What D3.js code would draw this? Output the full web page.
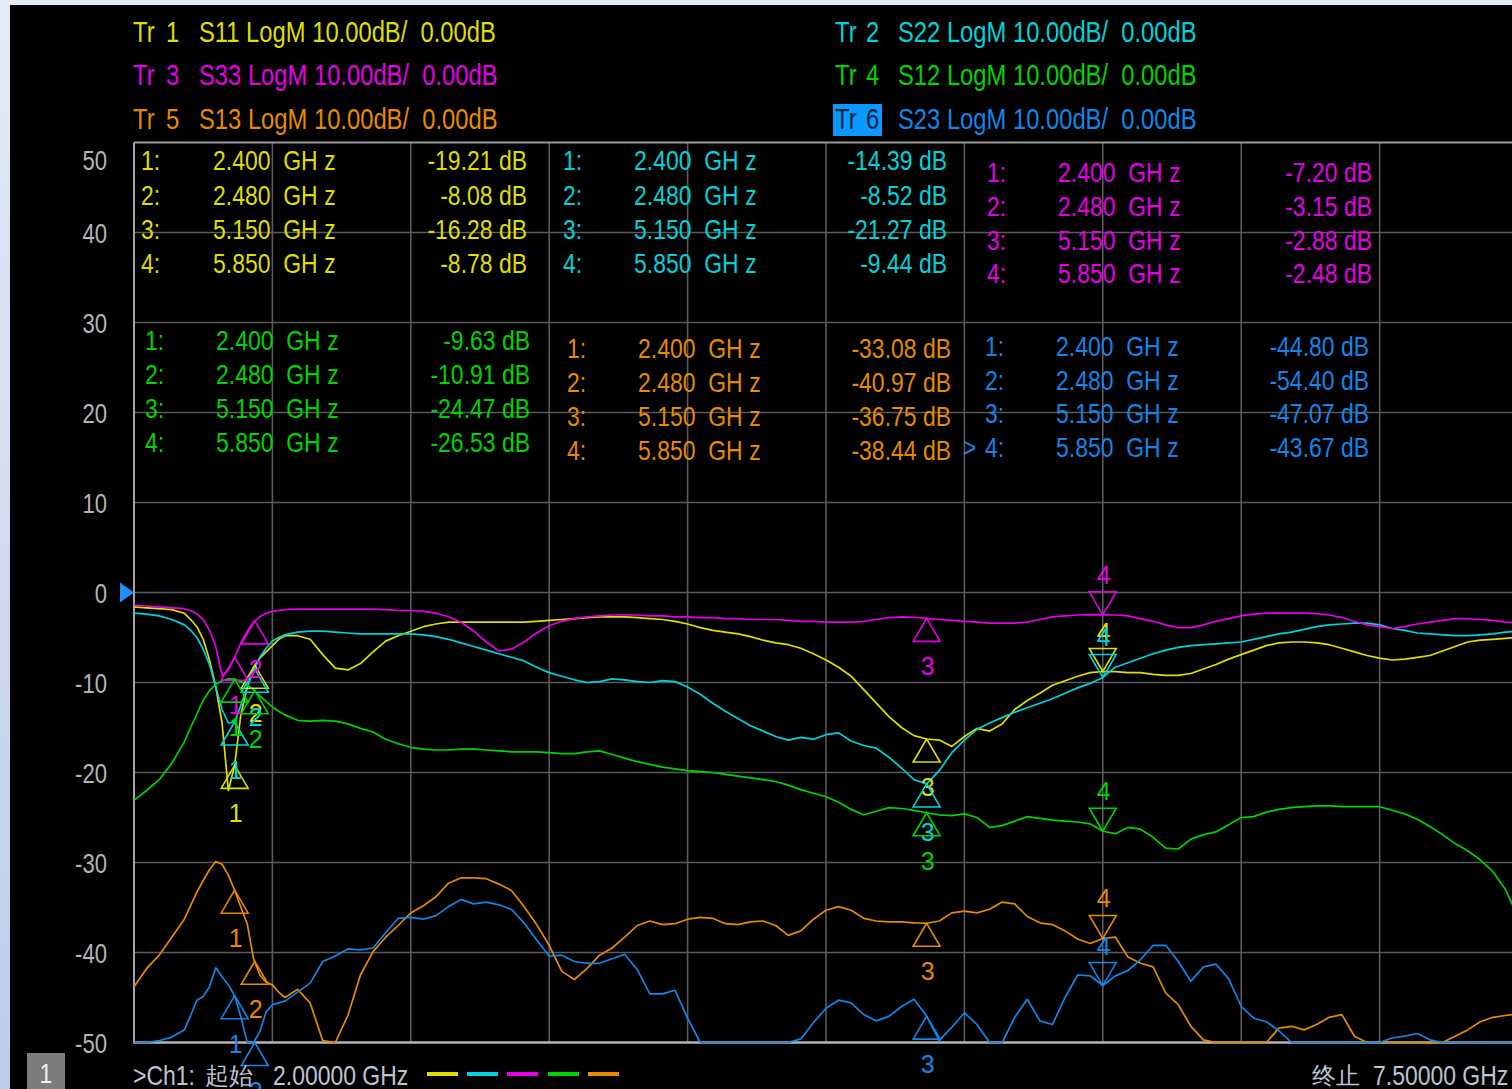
<!DOCTYPE html>
<html><head><meta charset="utf-8">
<script src="https://cdn.jsdelivr.net/npm/d3@7"></script>
<style>
html,body{margin:0;padding:0;background:#000;overflow:hidden}
svg{display:block}
text{font-family:"Liberation Sans",Arial,sans-serif;white-space:pre}
</style></head><body>
<svg id="c" width="1512" height="1089"></svg>
<script>
// ---------------- DATA ----------------
const freqGHz = [2.00,2.05,2.10,2.15,2.20,2.225,2.25,2.275,2.30,2.325,2.35,2.375,2.40,2.425,2.45,2.475,2.50,2.525,2.55,2.575,2.60,
 2.65,2.70,2.75,2.80,2.85,2.90,2.95,3.00,
 3.05,3.10,3.15,3.20,3.25,3.30,3.35,3.40,3.45,3.50,3.55,3.60,3.65,3.70,3.75,3.80,3.85,3.90,3.95,4.00,
 4.05,4.10,4.15,4.20,4.25,4.30,4.35,4.40,4.45,4.50,4.55,4.60,4.65,4.70,4.75,4.80,4.85,4.90,4.95,5.00,
 5.05,5.10,5.15,5.20,5.25,5.30,5.35,5.40,5.45,5.50,5.55,5.60,5.65,5.70,5.75,5.80,5.85,5.90,5.95,6.00,
 6.05,6.10,6.15,6.20,6.25,6.30,6.35,6.40,6.45,6.50,6.55,6.60,6.65,6.70,6.75,6.80,6.85,6.90,6.95,7.00,
 7.05,7.10,7.15,7.20,7.25,7.30,7.35,7.40,7.45,7.50];

const s11Db = [-1.6,-1.7,-1.8,-1.9,-2.3,-3.0,-3.8,-5.2,-7.5,-10.5,-14.5,-22.0,-19.21,-13.5,-10.5,-8.3,-7.3,-6.6,-5.9,-5.2,-4.8,
 -4.8,-5.2,-6.9,-8.4,-8.6,-7.9,-6.6,-5.4,
 -4.8,-4.3,-3.8,-3.5,-3.3,-3.3,-3.3,-3.3,-3.3,-3.3,-3.3,-3.2,-3.1,-3.0,-2.9,-2.8,-2.7,-2.7,-2.7,-2.8,
 -2.9,-3.0,-3.2,-3.5,-3.9,-4.2,-4.4,-4.6,-4.9,-5.3,-5.6,-5.8,-6.2,-6.8,-7.5,-8.3,-9.3,-10.8,-12.3,-13.8,
 -15.0,-15.9,-16.28,-16.4,-17.1,-16.0,-15.1,-15.4,-14.6,-13.0,-12.0,-11.2,-10.3,-9.8,-9.3,-8.9,-8.78,-8.8,-8.9,-8.9,
 -9.1,-9.2,-9.2,-9.0,-8.5,-8.0,-7.4,-6.9,-6.4,-5.9,-5.6,-5.5,-5.5,-5.6,-5.8,-6.2,-6.6,-7.0,-7.3,-7.5,
 -7.4,-7.2,-7.0,-6.5,-6.0,-5.5,-5.3,-5.2,-5.1,-5.0];

const s22Db = [-2.3,-2.4,-2.6,-3.0,-3.6,-4.2,-5.0,-6.3,-8.0,-10.5,-13.0,-14.5,-14.39,-12.5,-10.5,-8.7,-7.2,-6.2,-5.4,-5.0,-4.7,
 -4.4,-4.3,-4.3,-4.4,-4.5,-4.6,-4.6,-4.6,
 -4.6,-4.6,-4.7,-4.9,-5.2,-5.6,-6.0,-6.4,-6.8,-7.2,-7.6,-8.3,-8.9,-9.3,-9.7,-10.0,-9.9,-9.6,-9.7,-9.9,
 -10.0,-9.8,-9.9,-10.5,-11.3,-12.3,-13.2,-14.0,-14.8,-15.4,-16.0,-16.4,-16.1,-16.3,-15.8,-15.6,-16.5,-17.0,-17.3,-18.3,
 -19.5,-20.8,-21.27,-19.8,-17.8,-16.4,-15.2,-14.5,-13.9,-13.3,-12.8,-12.3,-11.8,-11.2,-10.6,-10.1,-9.44,-8.3,-7.8,-7.3,
 -6.8,-6.4,-6.1,-5.9,-5.8,-5.7,-5.6,-5.5,-5.2,-4.9,-4.6,-4.4,-4.1,-3.8,-3.6,-3.5,-3.4,-3.4,-3.6,-4.0,
 -4.2,-4.5,-4.6,-4.7,-4.8,-4.8,-4.7,-4.6,-4.4,-4.3];

const s33Db = [-1.4,-1.5,-1.6,-1.7,-1.8,-2.0,-2.4,-3.0,-4.2,-6.0,-9.2,-8.6,-7.20,-5.6,-4.3,-3.3,-2.7,-2.3,-2.1,-2.0,-1.9,
 -1.85,-1.85,-1.85,-1.85,-1.85,-1.85,-1.85,-1.9,
 -2.0,-2.0,-2.1,-2.3,-2.7,-3.3,-4.3,-5.5,-6.5,-6.3,-5.5,-4.5,-3.7,-3.2,-2.9,-2.7,-2.6,-2.5,-2.5,-2.5,
 -2.6,-2.6,-2.7,-2.7,-2.8,-2.8,-2.9,-2.9,-3.0,-3.0,-3.0,-3.1,-3.2,-3.2,-3.3,-3.3,-3.3,-3.2,-3.0,-2.8,
 -2.7,-2.75,-2.88,-3.0,-3.1,-3.2,-3.3,-3.4,-3.4,-3.4,-3.3,-3.0,-2.7,-2.6,-2.5,-2.45,-2.48,-2.5,-2.6,-2.9,
 -3.2,-3.6,-3.9,-3.9,-3.6,-3.2,-2.9,-2.6,-2.4,-2.3,-2.3,-2.3,-2.3,-2.35,-2.5,-2.8,-3.2,-3.6,-3.8,-4.0,
 -3.8,-3.5,-3.3,-3.1,-2.9,-2.9,-3.0,-3.1,-3.3,-3.4];

const s12Db = [-23.1,-22.0,-20.8,-19.0,-16.6,-15.0,-13.5,-12.0,-10.9,-10.2,-9.8,-9.6,-9.63,-9.9,-10.3,-10.8,-11.5,-12.1,-12.7,-13.2,-13.6,
 -14.2,-14.3,-14.2,-14.3,-14.6,-15.1,-15.5,-16.3,
 -16.8,-17.2,-17.4,-17.5,-17.5,-17.4,-17.4,-17.5,-17.6,-17.7,-17.7,-17.7,-17.8,-17.9,-17.9,-17.7,-17.6,-18.0,-18.4,-18.8,
 -19.1,-19.4,-19.6,-19.8,-19.9,-20.0,-20.2,-20.4,-20.6,-20.8,-21.0,-21.4,-21.9,-22.3,-22.7,-23.3,-24.1,-24.7,-24.3,-23.9,
 -24.0,-24.2,-24.47,-24.7,-24.8,-24.6,-25.0,-26.1,-25.9,-25.4,-24.9,-25.1,-25.3,-25.4,-25.5,-25.7,-26.53,-26.8,-26.1,-26.3,
 -27.2,-28.4,-28.5,-27.4,-26.9,-26.6,-25.8,-25.0,-24.9,-24.4,-24.1,-23.9,-23.8,-23.7,-23.7,-23.8,-23.8,-23.8,-23.8,-24.2,
 -24.6,-25.2,-26.0,-26.9,-27.9,-28.7,-29.7,-31.0,-33.0,-36.0];

const s13Db = [-43.8,-41.8,-40.3,-38.3,-36.3,-34.8,-33.3,-32.0,-30.8,-29.9,-30.2,-31.4,-33.08,-35.0,-36.8,-40.7,-42.5,-43.3,-43.6,-44.4,-45.0,
 -44.1,-45.6,-49.8,-50.0,-47.0,-42.5,-39.9,-38.3,
 -37.0,-35.6,-34.8,-33.8,-32.3,-31.7,-31.7,-31.8,-32.4,-33.1,-34.9,-36.9,-39.2,-42.1,-43.0,-41.8,-40.3,-39.5,-38.3,-37.0,
 -36.5,-36.9,-36.8,-36.3,-36.1,-36.2,-36.8,-36.9,-36.6,-36.5,-37.0,-38.1,-37.6,-36.3,-35.3,-34.9,-35.3,-36.2,-36.5,-36.6,
 -36.6,-36.7,-36.75,-36.5,-35.6,-35.4,-35.6,-35.2,-34.4,-34.6,-36.0,-36.7,-36.9,-37.6,-38.5,-39.0,-38.44,-38.3,-40.5,-41.2,
 -41.6,-44.5,-45.8,-48.2,-49.7,-50.0,-50.0,-50.0,-50.0,-50.0,-48.4,-48.2,-48.6,-48.0,-47.2,-46.9,-49.3,-50.0,-50.0,-50.0,
 -50.0,-50.0,-50.0,-50.0,-49.3,-48.6,-47.7,-47.2,-47.0,-46.8];

const s23Db = [-50.0,-50.0,-49.8,-49.4,-48.6,-47.0,-45.3,-44.9,-43.8,-41.7,-42.7,-43.6,-44.80,-47.2,-50.0,-50.0,-48.8,-46.6,-45.8,-45.6,-45.4,
 -44.4,-43.4,-41.0,-40.4,-39.6,-39.7,-39.5,-37.8,
 -36.2,-36.1,-36.3,-35.9,-34.9,-34.1,-34.6,-34.4,-34.7,-35.2,-36.7,-38.6,-40.4,-40.3,-41.0,-41.2,-41.2,-40.7,-40.2,-41.9,
 -44.6,-44.6,-44.2,-47.3,-50.0,-50.0,-50.0,-50.0,-50.0,-50.0,-50.0,-50.0,-49.6,-47.8,-46.2,-45.3,-45.6,-46.9,-47.6,-47.1,
 -46.0,-45.2,-47.07,-49.8,-48.3,-46.7,-48.0,-50.0,-50.0,-47.2,-45.2,-47.6,-48.0,-45.0,-42.5,-42.6,-43.67,-42.6,-42.0,-40.8,
 -39.2,-39.2,-41.0,-43.2,-41.6,-41.3,-42.9,-46.0,-47.3,-47.7,-48.7,-50.0,-50.0,-50.0,-50.0,-50.0,-50.0,-50.0,-50.0,-49.5,
 -49.3,-49.0,-49.7,-50.0,-50.0,-50.0,-50.0,-50.0,-50.0,-50.0];

const markerFreqs = [2.400, 2.480, 5.150, 5.850];
const markerNames = ["1","2","3","4"];
const s11Markers = [-19.21, -8.08, -16.28, -8.78];
const s22Markers = [-14.39, -8.52, -21.27, -9.44];
const s33Markers = [-7.20, -3.15, -2.88, -2.48];
const s12Markers = [-9.63, -10.91, -24.47, -26.53];
const s13Markers = [-33.08, -40.97, -36.75, -38.44];
const s23Markers = [-44.80, -54.40, -47.07, -43.67];

const traceNums = ["1","2","3","4","5","6"];
const paramNames = ["S11","S22","S33","S12","S13","S23"];
const formatText = "LogM 10.00dB/  0.00dB";
const yTickValues = [50,40,30,20,10,0,-10,-20,-30,-40,-50];
const startLabel = "2.00000 GHz";
const stopLabel = "7.50000 GHz";

// ---------------- STYLE / LAYOUT ----------------
const colors = ["#dede00","#00d2dc","#e600e6","#00d400","#e68a00","#1186e8"];
const series = [s11Db,s22Db,s33Db,s12Db,s13Db,s23Db];
const markers = [s11Markers,s22Markers,s33Markers,s12Markers,s13Markers,s23Markers];
const headerPos = [
  {x:133,nx:166,px:199,y:42},{x:835,nx:866,px:898,y:42},
  {x:133,nx:166,px:199,y:85},{x:835,nx:866,px:898,y:85},
  {x:133,nx:166,px:199,y:129},{x:835,nx:866,px:898,y:129}];
const tablePos = [
  {lx:141,fx:213,vx:527,rows:[160,195,229,263]},
  {lx:563,fx:634,vx:947,rows:[160,195,229,263]},
  {lx:987,fx:1058,vx:1372,rows:[172,206,240,273]},
  {lx:145,fx:216,vx:530,rows:[340,374,408,442]},
  {lx:567,fx:638,vx:951,rows:[348,382,416,450]},
  {lx:985,fx:1056,vx:1369,rows:[346,380,413,447]}];
const NARROW = 0.82;

const W = 1512, H = 1089;
const svg = d3.select("#c");
const defs = svg.append("defs");
const grad = defs.append("linearGradient").attr("id","lg").attr("x1",0).attr("y1",0).attr("x2",0).attr("y2",1);
grad.append("stop").attr("offset","0%").attr("stop-color","#e4ebf6");
grad.append("stop").attr("offset","100%").attr("stop-color","#bccde9");
svg.append("rect").attr("width",W).attr("height",H).attr("fill","#e2e9f4");
svg.append("rect").attr("x",0).attr("y",0).attr("width",10).attr("height",H).attr("fill","url(#lg)");
svg.append("rect").attr("x",10).attr("y",5).attr("width",W-10).attr("height",H-5).attr("fill","#000");

function ntext(g, x, y, str, fill, anchor) {
  return g.append("text")
    .attr("transform", `translate(${x},${y}) scale(${NARROW},1)`)
    .attr("text-anchor", anchor || "start")
    .attr("fill", fill).text(str);
}

const x = d3.scaleLinear().domain([2,7.5]).range([134,1518]);
const y = d3.scaleLinear().domain([-50,50]).range([1042.5,142.5]);
const clampDb = v => Math.max(-50, Math.min(50, v));

// grid
const grid = svg.append("g");
const xDivs = d3.range(1,10).map(i => 2 + i*0.55);
grid.selectAll("line.v").data(xDivs).join("line")
  .attr("x1",d=>x(d)).attr("x2",d=>x(d)).attr("y1",y(50)).attr("y2",y(-50))
  .attr("stroke","#5a5a5a").attr("stroke-width",1.6);
grid.selectAll("line.h").data(yTickValues.filter(v=>v>-50 && v<50)).join("line")
  .attr("x1",x(2)).attr("x2",W).attr("y1",d=>y(d)).attr("y2",d=>y(d))
  .attr("stroke","#5a5a5a").attr("stroke-width",1.6);
grid.append("line").attr("x1",x(2)).attr("x2",W).attr("y1",y(50)).attr("y2",y(50)).attr("stroke","#9c9c9c").attr("stroke-width",2);
grid.append("line").attr("x1",x(2)).attr("x2",x(2)).attr("y1",y(50)).attr("y2",y(-50)+1).attr("stroke","#a4a4a4").attr("stroke-width",2);
grid.append("line").attr("x1",x(2)).attr("x2",W).attr("y1",y(-50)).attr("y2",y(-50)).attr("stroke","#b4b4b4").attr("stroke-width",2.5);

// y axis labels
const yAxis = d3.axisLeft(y).tickValues(yTickValues).tickSize(0).tickFormat(d => String(d));
const ya = svg.append("g").attr("transform",`translate(${x(2)},0)`).call(yAxis);
ya.select(".domain").remove();
ya.selectAll("text")
  .attr("font-family",'"Liberation Sans",Arial,sans-serif')
  .attr("font-size",27).attr("fill","#b4b4b4").attr("dy","0.36em")
  .attr("x", -27/NARROW).attr("transform",`scale(${NARROW},1)`);
ya.selectAll(".tick").filter(d=>d===50).select("text").attr("y",17);

// reference arrow
svg.append("path").attr("d",`M120,${y(0)-10} L134,${y(0)} L120,${y(0)+10} Z`).attr("fill","#1e90ff");

// header
const hdr = svg.append("g").attr("font-size",29);
traceNums.forEach((t,i)=>{
  const p = headerPos[i];
  const active = i===5;
  if (active) hdr.append("rect").attr("x",p.x-2).attr("y",p.y-25).attr("width",49).attr("height",32).attr("fill","#0b98ff");
  ntext(hdr, p.x, p.y, "Tr", active ? "#0a2440" : colors[i]);
  ntext(hdr, p.nx, p.y, t, active ? "#0a2440" : colors[i]);
  ntext(hdr, p.px, p.y, paramNames[i]+" "+formatText, colors[i]);
});

// marker tables
const tbl = svg.append("g").attr("font-size",28);
const fmtF = d3.format(".3f");
const fmtV = v => v.toFixed(2);
markers.forEach((mv,i)=>{
  const p = tablePos[i];
  mv.forEach((v,k)=>{
    const by = p.rows[k] + 10;
    ntext(tbl, p.lx, by, markerNames[k]+":", colors[i]);
    const ft = ntext(tbl, p.fx, by, "", colors[i]);
    ft.append("tspan").text(fmtF(markerFreqs[k])+"  GH");
    ft.append("tspan").attr("dx",8).text("z");
    ntext(tbl, p.vx, by, fmtV(v)+" dB", colors[i], "end");
  });
});
ntext(tbl, 963, tablePos[5].rows[3]+10, ">", colors[5]);

// traces
defs.append("clipPath").attr("id","plotclip").append("rect").attr("x",x(2)).attr("y",y(50)-1).attr("width",W-x(2)).attr("height",y(-50)-y(50)+2);
const line = d3.line().x((d,i)=>x(freqGHz[i])).y(d=>y(clampDb(d)));
const tg = svg.append("g").attr("clip-path","url(#plotclip)");
series.forEach((s,i)=>{
  tg.append("path").attr("d",line(s)).attr("fill","none").attr("stroke",colors[i]).attr("stroke-width",1.7).attr("stroke-linejoin","round");
});

// markers
const mg = svg.append("g").attr("font-size",25);
markers.forEach((mv,i)=>{
  mv.forEach((v,k)=>{
    const px = x(markerFreqs[k]), py = y(clampDb(v));
    const active = k===3;
    const d = active ? -1 : 1;
    mg.append("path").attr("d",`M${px},${py} L${px-13.5},${py+d*23} L${px+13.5},${py+d*23} Z`)
      .attr("fill","none").attr("stroke",colors[i]).attr("stroke-width",1.6);
    mg.append("text").attr("x",px+1).attr("y", active ? py-31 : py+57).attr("text-anchor","middle")
      .attr("fill",colors[i]).text(markerNames[k]);
  });
});

// bottom bar
const bot = svg.append("g").attr("font-size",28);
const botColor = "#bcc4d0";
bot.append("rect").attr("x",27).attr("y",1053).attr("width",38).attr("height",36).attr("fill","#7c7c7c");
ntext(bot, 46, 1083, "1", "#f2f2f2", "middle");
ntext(bot, 133, 1085, ">Ch1:", botColor);
bot.append("text").attr("x",205).attr("y",1084).attr("font-family",'"Noto Sans CJK SC",sans-serif').attr("font-size",24).attr("fill",botColor).text("起始");
ntext(bot, 273, 1085, startLabel, botColor);
const legendX = [427,467,507,548,588];
legendX.forEach((lx,i)=>{
  bot.append("rect").attr("x",lx).attr("y",1072).attr("width",31).attr("height",4).attr("fill",colors[i]);
});
bot.append("text").attr("x",1312).attr("y",1084).attr("font-family",'"Noto Sans CJK SC",sans-serif').attr("font-size",24).attr("fill",botColor).text("终止");
ntext(bot, 1373, 1085, stopLabel, botColor);
</script>
</body></html>
